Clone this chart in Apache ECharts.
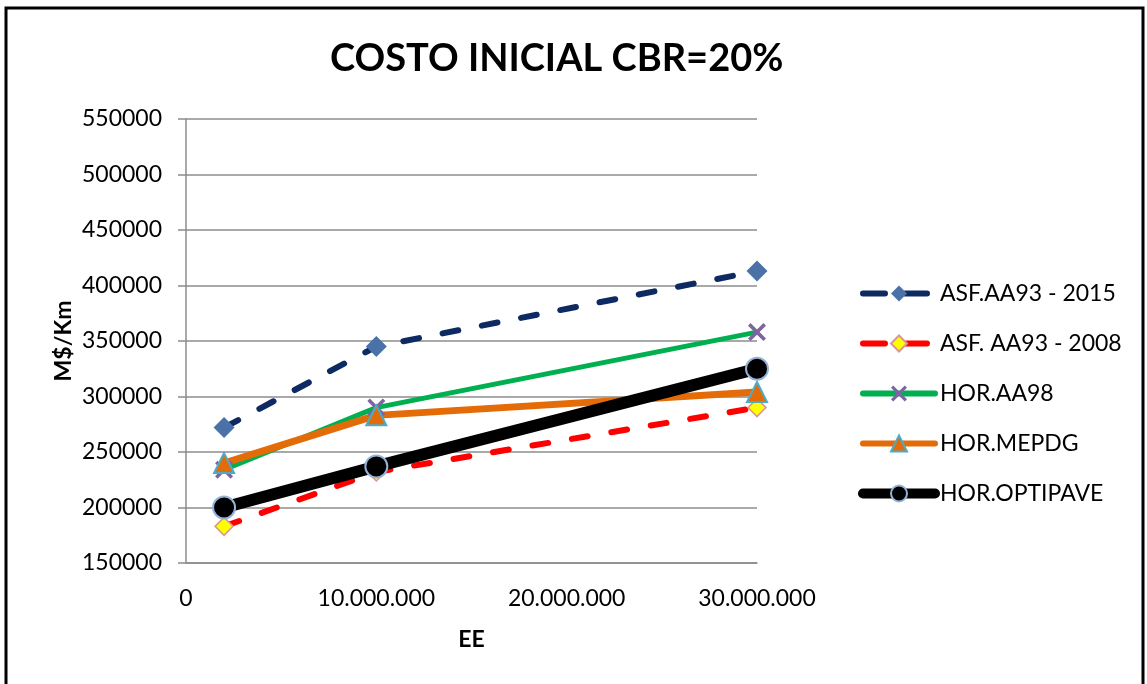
<!DOCTYPE html>
<html>
<head>
<meta charset="utf-8">
<script src="https://cdn.jsdelivr.net/npm/echarts@6/dist/echarts.min.js"></script>
<style>
  html, body { margin: 0; padding: 0; background: #fff; }
  #chart { width: 1147px; height: 684px; }
</style>
</head>
<body>
<div id="chart"></div>
<script>
// EE values (x axis)
const ee = [2000000, 10000000, 30000000];

// M$/Km for each series
const asf2015 = [272000, 345000, 413000];
const asf2008 = [183000, 232000, 290000];
const horAA98 = [234000, 290000, 358000];
const horMEPDG = [240000, 283000, 304000];
const horOptipave = [200000, 237000, 325000];

const seriesNames = ['ASF.AA93 - 2015', 'ASF. AA93 - 2008', 'HOR.AA98', 'HOR.MEPDG', 'HOR.OPTIPAVE'];

const FONT = 'Lato';
const xMark = 'path://M0,1.4 L1.4,0 L5,3.6 L8.6,0 L10,1.4 L6.4,5 L10,8.6 L8.6,10 L5,6.4 L1.4,10 L0,8.6 L3.6,5 Z';

const pairs = vals => vals.map((v, i) => [ee[i], v]);
const dots = v => String(v).replace(/\B(?=(\d{3})+(?!\d))/g, '.');

const chart = echarts.init(document.getElementById('chart'));

const option = {
  animation: false,
  backgroundColor: '#fff',
  textStyle: { fontFamily: FONT },
  title: {
    text: 'COSTO INICIAL CBR=20%',
    left: 330,
    top: 40,
    padding: 0,
    textStyle: { fontFamily: FONT, fontWeight: 'bold', fontSize: 38, color: '#000' }
  },
  graphic: [{
    type: 'rect',
    shape: { x: 6, y: 8, width: 1137, height: 720 },
    style: { fill: 'none', stroke: '#000', lineWidth: 3 },
    silent: true
  }],
  legend: {
    orient: 'vertical',
    left: 858,
    top: 282,
    padding: 0,
    itemWidth: 72,
    itemHeight: 20,
    itemGap: 27,
    textStyle: { fontFamily: FONT, fontSize: 23, color: '#000' },
    data: [
      { name: seriesNames[0], lineStyle: { width: 6, type: [22, 20], cap: 'round' } },
      { name: seriesNames[1], lineStyle: { width: 6, type: [22, 20], cap: 'round' } },
      { name: seriesNames[2], lineStyle: { width: 6, cap: 'round' } },
      { name: seriesNames[3], lineStyle: { width: 6, cap: 'round' } },
      { name: seriesNames[4], lineStyle: { width: 10, cap: 'round' } }
    ]
  },
  grid: { left: 186, right: 390, top: 119, bottom: 121 },
  xAxis: {
    type: 'value',
    min: 0,
    max: 30000000,
    interval: 10000000,
    name: 'EE',
    nameLocation: 'middle',
    nameGap: 65,
    nameTextStyle: { fontFamily: FONT, fontWeight: 'bold', fontSize: 23, color: '#000' },
    axisLine: { show: true, onZero: false, lineStyle: { color: '#8c8c8c', width: 1.5 } },
    axisTick: { show: false },
    splitLine: { show: false },
    axisLabel: { margin: 24, fontSize: 23, color: '#000', formatter: dots }
  },
  yAxis: {
    type: 'value',
    min: 150000,
    max: 550000,
    interval: 50000,
    name: 'M$/Km',
    nameLocation: 'middle',
    nameGap: 111,
    nameTextStyle: { fontFamily: FONT, fontWeight: 'bold', fontSize: 23, color: '#000' },
    axisLine: { show: true, lineStyle: { color: '#8c8c8c', width: 1.5 } },
    axisTick: { show: true, inside: false, length: 8, lineStyle: { color: '#8c8c8c', width: 1.5 } },
    splitLine: { show: true, lineStyle: { color: '#8c8c8c', width: 1.5 } },
    axisLabel: { margin: 24, fontSize: 23, color: '#000', formatter: v => String(v) }
  },
  series: [
    {
      name: seriesNames[0],
      type: 'line',
      data: pairs(asf2015),
      symbol: 'diamond',
      symbolSize: 21,
      lineStyle: { color: '#0e2a62', width: 6, type: [16, 24], cap: 'round' },
      itemStyle: { color: '#4a72a8' }
    },
    {
      name: seriesNames[1],
      type: 'line',
      data: pairs(asf2008),
      symbol: 'diamond',
      symbolSize: 18,
      lineStyle: { color: '#ff0000', width: 6, type: [16, 24], cap: 'round' },
      itemStyle: { color: '#ffff00', borderColor: '#d99694', borderWidth: 1.5 }
    },
    {
      name: seriesNames[2],
      type: 'line',
      data: pairs(horAA98),
      symbol: xMark,
      symbolSize: 18,
      lineStyle: { color: '#00b050', width: 5 },
      itemStyle: { color: '#7f64a2' }
    },
    {
      name: seriesNames[3],
      type: 'line',
      data: pairs(horMEPDG),
      symbol: 'triangle',
      symbolSize: 20,
      lineStyle: { color: '#e36c09', width: 7 },
      itemStyle: { color: '#e36c09', borderColor: '#4bacc6', borderWidth: 2 }
    },
    {
      name: seriesNames[4],
      type: 'line',
      data: pairs(horOptipave),
      symbol: 'circle',
      symbolSize: 22,
      lineStyle: { color: '#000', width: 12 },
      itemStyle: { color: '#000', borderColor: '#95b3d7', borderWidth: 2 }
    }
  ]
};

chart.setOption(option);
</script>
</body>
</html>
